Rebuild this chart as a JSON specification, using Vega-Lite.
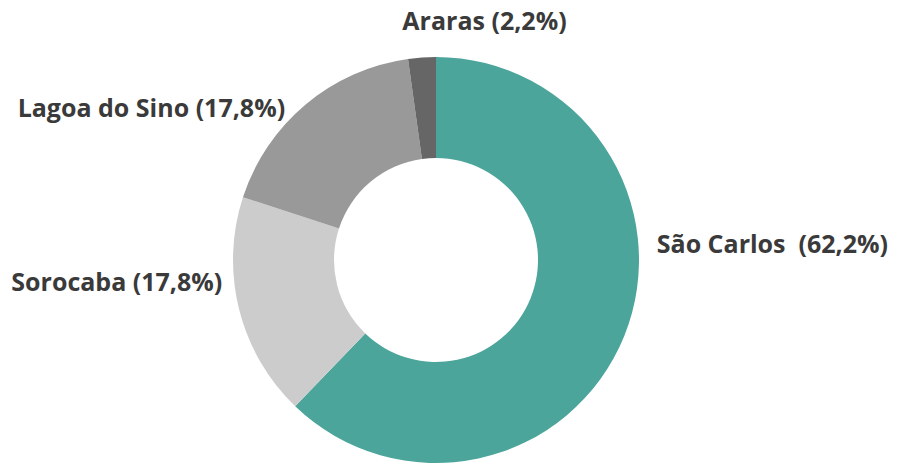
{
  "$schema": "https://vega.github.io/schema/vega-lite/v6.json",
  "width": 872,
  "height": 408,
  "autosize": "none",
  "padding": {"left": 0, "right": 26, "top": 56, "bottom": 0},
  "background": "white",
  "view": {"stroke": null},
  "data": {
    "values": [
      {"cidade": "São Carlos", "pct": 62.2, "rotulo": "São Carlos\u00a0 (62,2%)"},
      {"cidade": "Sorocaba", "pct": 17.8, "rotulo": "Sorocaba (17,8%)"},
      {"cidade": "Lagoa do Sino", "pct": 17.8, "rotulo": "Lagoa do Sino (17,8%)"},
      {"cidade": "Araras", "pct": 2.2, "rotulo": "Araras (2,2%)"}
    ]
  },
  "encoding": {
    "theta": {"field": "pct", "type": "quantitative", "stack": true},
    "order": {"field": "cidade", "sort": "descending"}
  },
  "layer": [
    {
      "mark": {"type": "arc", "innerRadius": 102, "outerRadius": 203},
      "encoding": {
        "color": {
          "field": "cidade",
          "type": "nominal",
          "scale": {
            "domain": ["São Carlos", "Sorocaba", "Lagoa do Sino", "Araras"],
            "range": ["#4ba59a", "#cccccc", "#999999", "#666666"]
          },
          "legend": null
        }
      }
    },
    {
      "mark": {"type": "text", "radius": 210, "align": "left", "baseline": "alphabetic", "dx": 26, "dy": -86, "font": "Open Sans", "fontWeight": "bold", "fontSize": 25, "fill": "#3a3a3a"},
      "encoding": {"text": {"condition": {"test": "datum.cidade == 'São Carlos'", "field": "rotulo"}, "value": ""}}
    },
    {
      "mark": {"type": "text", "radius": 210, "align": "right", "baseline": "alphabetic", "dx": -10, "dy": -20, "font": "Open Sans", "fontWeight": "bold", "fontSize": 25, "fill": "#3a3a3a"},
      "encoding": {"text": {"condition": {"test": "datum.cidade == 'Sorocaba'", "field": "rotulo"}, "value": ""}}
    },
    {
      "mark": {"type": "text", "radius": 210, "align": "right", "baseline": "alphabetic", "dx": -16, "dy": 18, "font": "Open Sans", "fontWeight": "bold", "fontSize": 25, "fill": "#3a3a3a"},
      "encoding": {"text": {"condition": {"test": "datum.cidade == 'Lagoa do Sino'", "field": "rotulo"}, "value": ""}}
    },
    {
      "mark": {"type": "text", "radius": 210, "align": "center", "baseline": "alphabetic", "dx": 63, "dy": -21, "font": "Open Sans", "fontWeight": "bold", "fontSize": 25, "fill": "#3a3a3a"},
      "encoding": {"text": {"condition": {"test": "datum.cidade == 'Araras'", "field": "rotulo"}, "value": ""}}
    }
  ]
}
